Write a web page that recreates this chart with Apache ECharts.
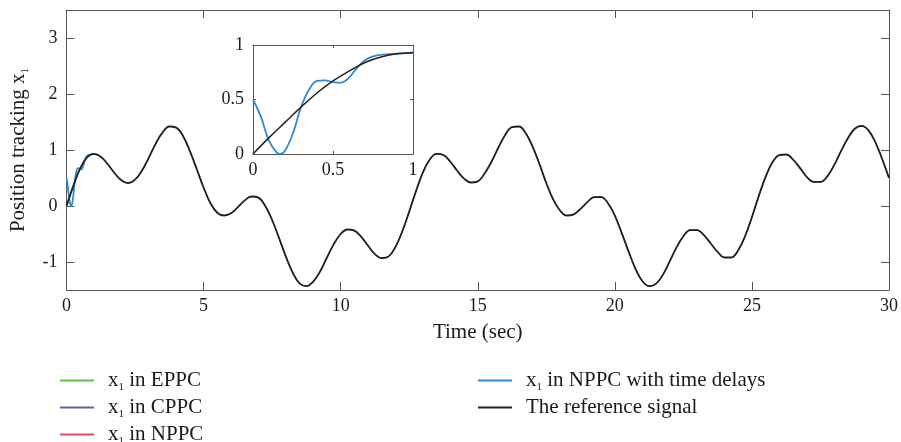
<!DOCTYPE html>
<html><head><meta charset="utf-8">
<script src="https://cdn.jsdelivr.net/npm/echarts@6/dist/echarts.min.js"></script>
<style>html,body{margin:0;padding:0;background:#fff}#c{width:901px;height:442px}</style>
</head><body><div id="c"></div>
<script>
// ---- data ----
const refStep = 0.25; // seconds between samples of the reference signal
const refSignal = [
  0, 0.36, 0.67, 0.87, 0.93, 0.88, 0.75, 0.59, 0.46, 0.41, 0.47,
  0.63, 0.86, 1.11, 1.31, 1.42, 1.40, 1.25, 0.98, 0.66, 0.33,
  0.05, -0.12, -0.17, -0.13, -0.02, 0.10, 0.17, 0.15, 0.00, -0.25,
  -0.57, -0.90, -1.19, -1.38, -1.43, -1.35, -1.17, -0.92, -0.68, -0.50,
  -0.42, -0.44, -0.55, -0.71, -0.86, -0.93, -0.90, -0.73, -0.45, -0.10,
  0.27, 0.60, 0.83, 0.93, 0.91, 0.79, 0.63, 0.49, 0.42, 0.44,
  0.58, 0.79, 1.04, 1.27, 1.41, 1.42, 1.30, 1.06, 0.75, 0.41,
  0.12, -0.08, -0.17, -0.15, -0.05, 0.07, 0.16, 0.16, 0.05, -0.17,
  -0.48, -0.81, -1.12, -1.34, -1.43, -1.39, -1.23, -0.99, -0.74, -0.54,
  -0.43, -0.43, -0.52, -0.67, -0.82, -0.92, -0.92, -0.79, -0.54, -0.20,
  0.18, 0.52, 0.78, 0.91, 0.92, 0.83, 0.68, 0.52, 0.43, 0.43,
  0.53, 0.73, 0.98, 1.21, 1.38, 1.43, 1.35, 1.14, 0.84, 0.50
];
const insetTime = [0, 0.1, 0.2, 0.3, 0.4, 0.5, 0.6, 0.7, 0.8, 0.9, 1.0];
const insetRef  = [0, 0.15, 0.29, 0.43, 0.56, 0.67, 0.76, 0.84, 0.89, 0.92, 0.93];
const delayTime = [0, 0.05, 0.1, 0.15, 0.17, 0.2, 0.25, 0.3, 0.35, 0.4, 0.45, 0.5, 0.55, 0.6, 0.65, 0.7, 0.75, 0.8, 0.85, 0.9, 0.95, 1.0];
const delayVals = [0.50, 0.34, 0.12, 0.01, 0.0, 0.03, 0.19, 0.43, 0.59, 0.67, 0.675, 0.66, 0.655, 0.70, 0.79, 0.86, 0.895, 0.91, 0.915, 0.92, 0.925, 0.93];
const xTicks = [0, 5, 10, 15, 20, 25, 30];
const yTicks = [-1, 0, 1, 2, 3];
const insetTicks = [0, 0.5, 1];
const seriesNames = ['x1 in EPPC', 'x1 in CPPC', 'x1 in NPPC', 'x1 in NPPC with time delays', 'The reference signal'];
const legendLabels = [['x', '1', ' in EPPC'], ['x', '1', ' in CPPC'], ['x', '1', ' in NPPC'], ['x', '1', ' in NPPC with time delays'], ['The reference signal', '', '']];
const seriesColors = ['#5cc347', '#5a64a8', '#ea4a55', '#2f8ad0', '#222222'];

// ---- chart ----
const FONT = 'Liberation Serif';
const TXT = '#1a1a1a';
const AX = '#555';
const refPairs = refSignal.map((v, i) => [i * refStep, v]);
const delayPairs = delayTime.map((t, i) => [t, delayVals[i]]);
const insetPairs = insetTime.map((t, i) => [t, insetRef[i]]);

function axisX(gridIndex, min, max, ticks, pos, showLabel, tickLen, extra) {
  return Object.assign({
    type: 'value', gridIndex, min, max, position: pos,
    axisLine: { show: true, onZero: false, lineStyle: { color: AX, width: 1 } },
    axisTick: { show: true, inside: true, length: tickLen, customValues: ticks, lineStyle: { color: AX } },
    axisLabel: { show: showLabel, customValues: ticks, margin: 7, fontFamily: FONT, fontSize: 18, color: TXT },
    splitLine: { show: false }
  }, extra || {});
}
function axisY(gridIndex, min, max, ticks, pos, showLabel, tickLen, extra) {
  return Object.assign({
    type: 'value', gridIndex, min, max, position: pos,
    axisLine: { show: true, onZero: false, lineStyle: { color: AX, width: 1 } },
    axisTick: { show: true, inside: true, length: tickLen, customValues: ticks, lineStyle: { color: AX } },
    axisLabel: { show: showLabel, customValues: ticks, margin: 9, fontFamily: FONT, fontSize: 18, color: TXT },
    splitLine: { show: false }
  }, extra || {});
}

const legendRows = [[60, 379], [60, 406], [60, 433], [478, 379], [478, 406]];
const legends = seriesNames.map((n, i) => ({
  data: [n], left: legendRows[i][0], top: legendRows[i][1] - 9, padding: 0,
  icon: 'rect', itemWidth: 34, itemHeight: 2, selectedMode: false,
  formatter: () => {
    const L = legendLabels[i];
    return L[1] ? '{p|' + L[0] + '}{s|' + L[1] + '}{a|' + L[2] + '}' : '{p|' + L[0] + '}';
  },
  textStyle: {
    fontFamily: FONT, fontSize: 21, color: TXT,
    rich: {
      p: { fontFamily: FONT, fontSize: 21, color: TXT, lineHeight: 24, padding: [0, 0, 0, 9] },
      a: { fontFamily: FONT, fontSize: 21, color: TXT, lineHeight: 24 },
      s: { fontFamily: FONT, fontSize: 11, color: TXT, lineHeight: 11, verticalAlign: 'bottom' }
    }
  }
}));

const option = {
  animation: false,
  backgroundColor: '#fff',
  grid: [
    { left: 64, top: 10, right: 11, bottom: 152, containLabel: false },
    { left: 253, top: 45, width: 160, height: 109, containLabel: false, show: true, backgroundColor: '#fff', borderWidth: 0 }
  ],
  legend: legends,
  xAxis: [
    axisX(0, 0, 30, xTicks, 'bottom', true, 8, {
      name: 'Time (sec)', nameLocation: 'middle', nameGap: 32,
      nameTextStyle: { fontFamily: FONT, fontSize: 21, color: TXT }
    }),
    axisX(0, 0, 30, xTicks, 'top', false, 8),
    axisX(1, 0, 1, insetTicks, 'bottom', true, 3),
    axisX(1, 0, 1, insetTicks, 'top', false, 3)
  ],
  yAxis: [
    axisY(0, -1.5, 3.5, yTicks, 'left', true, 8, {
      name: '{a|Position tracking x}{s|1}', nameLocation: 'middle', nameGap: 36,
      nameTextStyle: {
        fontFamily: FONT, fontSize: 21, color: TXT,
        rich: {
          a: { fontFamily: FONT, fontSize: 21, color: TXT, lineHeight: 24 },
          s: { fontFamily: FONT, fontSize: 11, color: TXT, lineHeight: 11, verticalAlign: 'bottom' }
        }
      }
    }),
    axisY(0, -1.5, 3.5, yTicks, 'right', false, 8),
    axisY(1, 0, 1, insetTicks, 'left', true, 3),
    axisY(1, 0, 1, insetTicks, 'right', false, 3)
  ],
  series: [
    { name: seriesNames[0], type: 'line', xAxisIndex: 0, yAxisIndex: 0, data: refPairs, showSymbol: false, smooth: 0.4, color: seriesColors[0], lineStyle: { width: 1 } },
    { name: seriesNames[1], type: 'line', xAxisIndex: 0, yAxisIndex: 0, data: refPairs, showSymbol: false, smooth: 0.4, color: seriesColors[1], lineStyle: { width: 1 } },
    { name: seriesNames[2], type: 'line', xAxisIndex: 0, yAxisIndex: 0, data: refPairs, showSymbol: false, smooth: 0.4, color: seriesColors[2], lineStyle: { width: 1 } },
    { name: seriesNames[3], type: 'line', xAxisIndex: 0, yAxisIndex: 0, data: delayPairs, showSymbol: false, smooth: 0.4, color: seriesColors[3], lineStyle: { width: 1.8 } },
    { name: seriesNames[4], type: 'line', xAxisIndex: 0, yAxisIndex: 0, data: refPairs, showSymbol: false, smooth: 0.4, color: seriesColors[4], lineStyle: { width: 1.8 } },
    { name: seriesNames[3], type: 'line', xAxisIndex: 2, yAxisIndex: 2, data: delayPairs, showSymbol: false, smooth: 0.4, color: seriesColors[3], lineStyle: { width: 1.8 } },
    { name: seriesNames[4], type: 'line', xAxisIndex: 2, yAxisIndex: 2, data: insetPairs, showSymbol: false, smooth: 0.4, color: seriesColors[4], lineStyle: { width: 1.5 } }
  ]
};
const chart = echarts.init(document.getElementById('c'), null, { renderer: 'canvas' });
chart.setOption(option);
</script>
</body></html>
